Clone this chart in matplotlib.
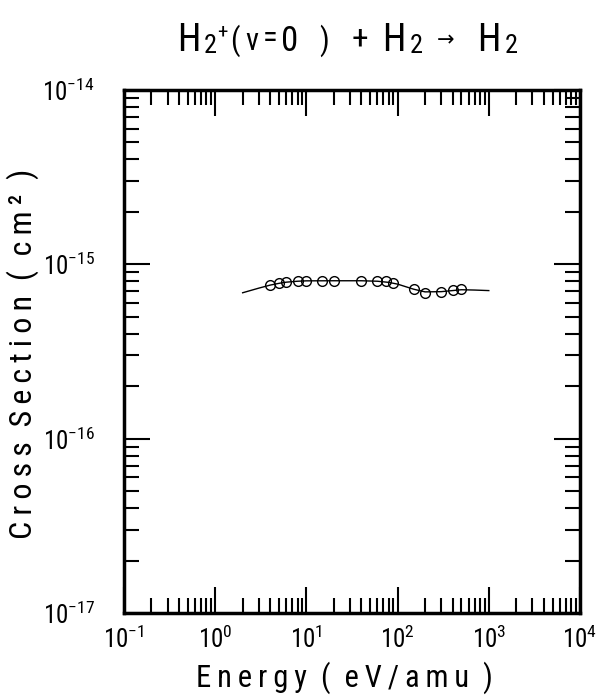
import matplotlib
matplotlib.use("Agg")
import matplotlib.pyplot as plt
from matplotlib import font_manager as fm
from matplotlib.ticker import LogLocator, LogFormatterSciNotation

names = {f.name for f in fm.fontManager.ttflist}
fam = "Roboto Condensed" if "Roboto Condensed" in names else "DejaVu Sans"
plt.rcParams['font.family'] = [fam, 'DejaVu Sans']
plt.rcParams['mathtext.fontset'] = 'custom'
plt.rcParams['mathtext.rm'] = fam
plt.rcParams['mathtext.it'] = fam
plt.rcParams['mathtext.bf'] = fam
plt.rcParams['mathtext.sf'] = fam

# data points (circles)
energy_pts = [4, 5, 6, 8, 10, 15, 20, 40, 60, 75, 90, 150, 200, 300, 400, 500]
sigma_pts = [7.60e-16, 7.78e-16, 7.91e-16, 8.05e-16, 7.98e-16, 8.05e-16, 8.05e-16,
             8.05e-16, 8.05e-16, 7.98e-16, 7.83e-16, 7.19e-16, 6.82e-16, 6.94e-16,
             7.13e-16, 7.24e-16]

# fitted curve
energy_fit = [2, 3, 4, 5, 6, 8, 10, 20, 40, 60, 80, 100, 150, 200, 300, 500, 700, 1000]
sigma_fit = [6.87e-16, 7.30e-16, 7.60e-16, 7.78e-16, 7.90e-16, 8.00e-16, 8.04e-16,
             8.05e-16, 8.05e-16, 8.00e-16, 7.88e-16, 7.70e-16, 7.20e-16, 6.95e-16,
             6.97e-16, 7.15e-16, 7.12e-16, 7.07e-16]

x_label = "Energy ( eV/amu )"
y_label = "Cross Section ( cm² )"

W, H = 598, 696
fig = plt.figure(figsize=(W/100, H/100), dpi=100)
ax = fig.add_axes([124/W, 1-613/H, (580-124)/W, (613-90)/H])

ax.plot(energy_fit, sigma_fit, color='black', lw=1.0)
ax.plot(energy_pts, sigma_pts, 'o', mfc='none', mec='black', ms=7, mew=1.0)

ax.set_xscale('log')
ax.set_yscale('log')
ax.set_xlim(1e-1, 1e4)
ax.set_ylim(1e-17, 1e-14)

for a in (ax.xaxis, ax.yaxis):
    a.set_major_locator(LogLocator(base=10, numticks=20))
    a.set_minor_locator(LogLocator(base=10, subs=range(2, 10), numticks=20))
    a.set_major_formatter(LogFormatterSciNotation())

ax.tick_params(which='both', direction='in', top=True, right=True, width=1.5)
ax.tick_params(which='major', length=19, labelsize=18)
ax.tick_params(which='minor', length=11)
ax.tick_params(axis='x', which='major', pad=9)
ax.tick_params(axis='y', which='major', pad=21)
for s in ax.spines.values():
    s.set_linewidth(2.5)


def spaced(s, gap):
    return gap.join("\u2009".join(w) for w in s.split(" "))


def px(x, y):
    return x / W, 1 - y / H


fig.text(*px(344, 687), spaced(x_label, "  "), fontsize=22, ha='center', va='baseline')
fig.text(*px(23, 354), spaced(y_label, "  "), fontsize=23, ha='center', va='center',
         rotation=90)

# title pieces: (text, x, baseline y, size)
title_parts = [
    ("H", 189, 51, 27), ("2", 210, 53, 19), ("+", 222, 37, 15),
    ("(", 235, 50, 22), ("v", 252, 50, 22), ("=", 270, 47, 22),
    ("0", 290, 51, 25), (")", 324, 50, 22), ("+", 360, 49, 24),
    ("H", 394, 51, 27), ("2", 416, 53, 19), ("→", 446, 46, 15),
    ("H", 489, 51, 27), ("2", 511, 53, 19),
]
for t, x, y, s in title_parts:
    fig.text(*px(x, y), t, fontsize=s, ha='center', va='baseline')

fig.savefig('out.png', dpi=100)
